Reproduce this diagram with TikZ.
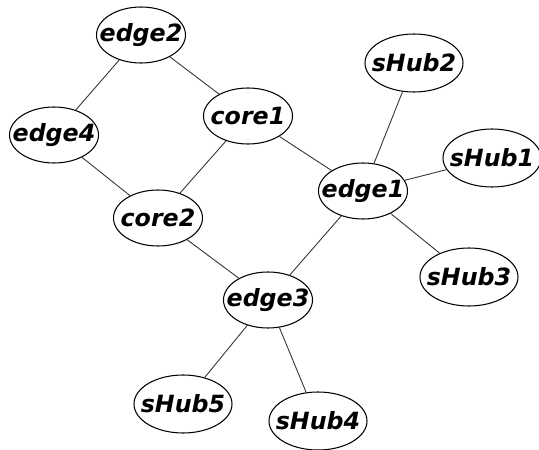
\documentclass[tikz,border=0pt]{standalone}
\usepackage{fontspec}
\setmainfont{DejaVu Sans}
\usetikzlibrary{shapes.geometric}

\begin{document}
\begin{tikzpicture}[x=0.02cm, y=-0.02cm,
  every node/.style={font=\fontsize{13.5}{14}\selectfont\bfseries\itshape},
  netnode/.style={draw, ellipse, line width=0.6pt, fill=white, inner sep=0pt, minimum width=89*0.02cm, minimum height=56*0.02cm, label=center:{#1}},
  hubnode/.style={netnode=#1, minimum width=98*0.02cm, minimum height=58*0.02cm},
  link/.style={draw=black!80, line width=0.5pt}]
  % Page frame
  \useasboundingbox (0,0) rectangle (539,450);

  % Edge and core switches
  \node[netnode=edge2] (edge2) at (141,35) {};
  \node[netnode=core1] (core1) at (248,116) {};
  \node[netnode=edge4] (edge4) at (54,135) {};
  \node[netnode=core2] (core2) at (158,218) {};
  \node[netnode=edge1] (edge1) at (363,191) {};
  \node[netnode=edge3] (edge3) at (268,300) {};

  % Hubs
  \node[hubnode=sHub2] (shub2) at (414,63) {};
  \node[hubnode=sHub1] (shub1) at (492,158) {};
  \node[hubnode=sHub3] (shub3) at (469,277) {};
  \node[hubnode=sHub5] (shub5) at (183,404) {};
  \node[hubnode=sHub4] (shub4) at (318,421) {};

  % Links
  \draw[link] (edge2) -- (edge4);
  \draw[link] (edge2) -- (core1);
  \draw[link] (edge4) -- (core2);
  \draw[link] (core1) -- (core2);
  \draw[link] (core1) -- (edge1);
  \draw[link] (core2) -- (edge3);
  \draw[link] (edge3) -- (edge1);
  \draw[link] (edge1) -- (shub2);
  \draw[link] (edge1) -- (shub1);
  \draw[link] (edge1) -- (shub3);
  \draw[link] (edge3) -- (shub5);
  \draw[link] (edge3) -- (shub4);
\end{tikzpicture}
\end{document}
